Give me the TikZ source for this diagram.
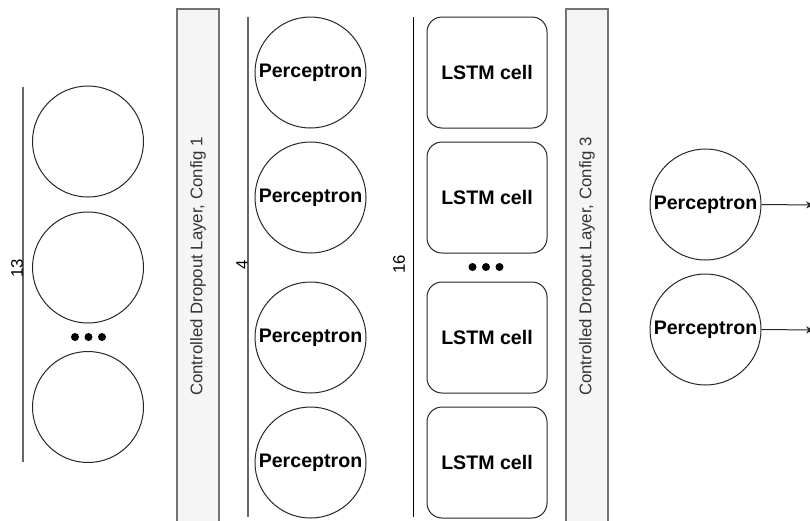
\documentclass[tikz,border=0pt]{standalone}
\usepackage{fontspec}
\setmainfont{Liberation Sans}
\usetikzlibrary{arrows.meta}
\begin{document}
\begin{tikzpicture}[x=1pt,y=-1pt,
  neuron/.style={circle,draw=black!85,line width=1pt,minimum size=111pt,inner sep=0pt,
    font=\fontsize{19.6}{23}\selectfont\bfseries},
  cell/.style={draw=black!85,line width=1pt,rounded corners=15pt,minimum width=120pt,
    minimum height=111pt,inner sep=0pt,font=\fontsize{19.6}{23}\selectfont\bfseries},
  dropout/.style={draw=black!55,fill=black!4,line width=1.5pt,rotate=90,
    minimum width=515pt,minimum height=42pt,inner sep=0pt,text=black!80,
    font=\fontsize{16.8}{20}\selectfont},
  count/.style={rotate=90,inner sep=0pt,font=\fontsize{16.8}{20}\selectfont},
  rail/.style={draw=black!60,line width=2pt},
  thinrail/.style={draw=black,line width=1pt},
  dot/.style={circle,fill=black,inner sep=0pt,minimum size=8pt},
  outarrow/.style={draw=black!85,line width=1pt,-{Stealth[length=8pt,width=7pt]}}
]
\useasboundingbox (0,0) rectangle (810,520);

% input layer (13 units)
\coordinate (r1a) at (23,87);
\coordinate (r1b) at (23,462);
\draw[rail] (r1a) -- (r1b);
\node[count] (n13) at (17,268) {13};
\node[neuron] (i1) at (88,141.5) {};
\node[neuron] (i2) at (88,267.5) {};
\node[neuron] (i3) at (88,407) {};
\node[dot] (id1) at (75,337) {};
\node[dot] (id2) at (88.5,337) {};
\node[dot] (id3) at (102,337) {};

% first dropout layer
\node[dropout] (d1) at (198,266.5) {Controlled Dropout Layer, Config 1};

% perceptron layer (4 units)
\coordinate (r2a) at (248,17);
\coordinate (r2b) at (248,517);
\draw[rail] (r2a) -- (r2b);
\node[count] (n4) at (242,265) {4};
\node[neuron] (h1) at (310.5,72.5) {Perceptron};
\node[neuron] (h2) at (310.5,197.5) {Perceptron};
\node[neuron] (h3) at (310.5,337.5) {Perceptron};
\node[neuron] (h4) at (310.5,462.5) {Perceptron};

% LSTM layer (16 cells)
\coordinate (r3a) at (413,17);
\coordinate (r3b) at (413,517);
\draw[thinrail] (r3a) -- (r3b);
\node[count] (n16) at (399,264) {16};
\node[cell] (l1) at (487,72.5) {LSTM cell};
\node[cell] (l2) at (487,197.5) {LSTM cell};
\node[cell] (l3) at (487,337.5) {LSTM cell};
\node[cell] (l4) at (487,462.5) {LSTM cell};
\node[dot] (ld1) at (472.5,267) {};
\node[dot] (ld2) at (486,267) {};
\node[dot] (ld3) at (499.5,267) {};

% second dropout layer
\node[dropout] (d3) at (587,266.5) {Controlled Dropout Layer, Config 3};

% output layer
\node[neuron] (o1) at (705.5,204.5) {Perceptron};
\node[neuron] (o2) at (705.5,329.5) {Perceptron};
\coordinate (e1) at (814,205);
\coordinate (e2) at (814,330);
\draw[outarrow] (o1.east) -- (e1);
\draw[outarrow] (o2.east) -- (e2);
\end{tikzpicture}
\end{document}
